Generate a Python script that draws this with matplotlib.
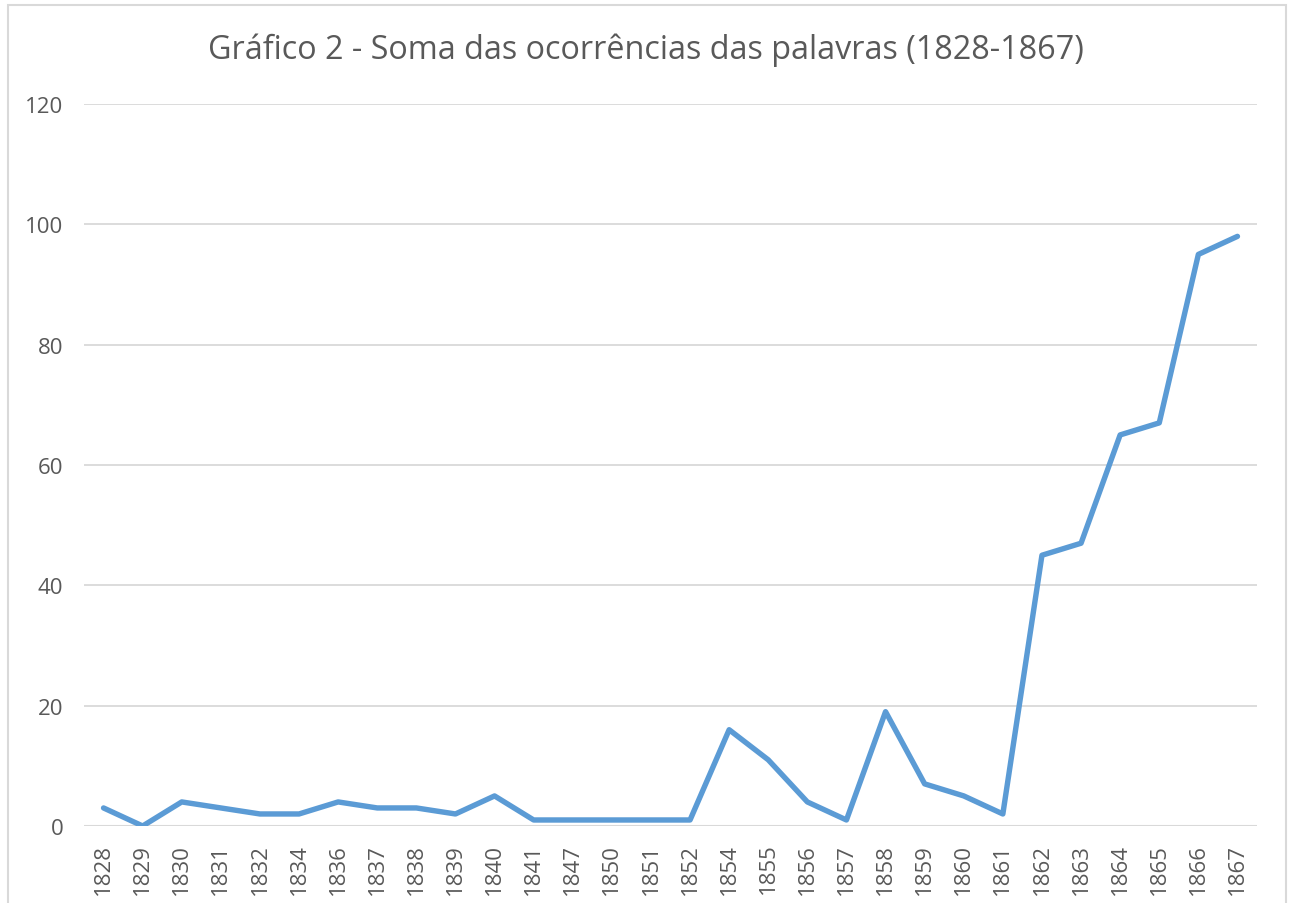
import matplotlib.pyplot as plt
from matplotlib.patches import Rectangle

anos = ['1828', '1829', '1830', '1831', '1832', '1834', '1836', '1837', '1838', '1839',
        '1840', '1841', '1847', '1850', '1851', '1852', '1854', '1855', '1856', '1857',
        '1858', '1859', '1860', '1861', '1862', '1863', '1864', '1865', '1866', '1867']
ocorrencias = [3, 0, 4, 3, 2, 2, 4, 3, 3, 2,
               5, 1, 1, 1, 1, 1, 16, 11, 4, 1,
               19, 7, 5, 2, 45, 47, 65, 67, 95, 98]
yticks = [0, 20, 40, 60, 80, 100, 120]

texto = '#595959'
grade = '#d9d9d9'
plt.rcParams['font.family'] = ['Open Sans', 'DejaVu Sans']

fig = plt.figure(figsize=(12.92, 9.04), dpi=100)
W, H = 1292, 904

# chart border (bottom is cropped in the original)
fig.patches.append(Rectangle((8 / W, -0.05), (1286 - 8) / W, 1.05 - 6 / H,
                             transform=fig.transFigure, fill=False,
                             edgecolor=grade, linewidth=1.5))

ax = fig.add_axes([84 / W, 1 - 827 / H, (1257 - 84) / W, (827 - 105) / H])
x = list(range(len(anos)))
ax.plot(x, ocorrencias, color='#5b9bd5', linewidth=3.9, solid_joinstyle='round',
        solid_capstyle='round', zorder=3)

ax.set_xlim(-0.5, len(anos) - 0.5)
ax.set_ylim(0, 120)
ax.set_yticks(yticks)
ax.set_yticklabels([str(v) for v in yticks])
ax.set_xticks(x)
ax.set_xticklabels(anos, rotation=90)
ax.grid(axis='y', color=grade, linewidth=1.3)
ax.set_axisbelow(True)
for s in ax.spines.values():
    s.set_visible(False)
ax.axhline(0, color=grade, linewidth=1.5, zorder=2)
ax.tick_params(axis='both', length=0, labelcolor=texto, labelsize=16)
ax.tick_params(axis='y', pad=15)
ax.tick_params(axis='x', pad=12)

fig.text((207 + 1085) / 2 / W, 1 - 50 / H,
         'Gráfico 2 - Soma das ocorrências das palavras (1828-1867)',
         ha='center', va='center', fontsize=23.3, color=texto)

fig.savefig('out.png', dpi=100)
